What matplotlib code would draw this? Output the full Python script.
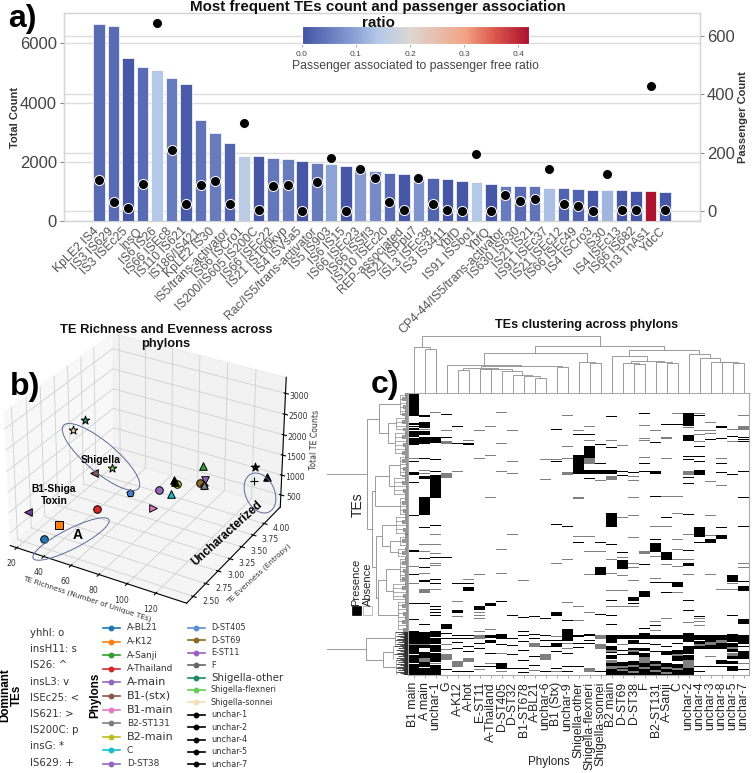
import matplotlib
matplotlib.use("Agg")
import matplotlib.pyplot as plt
import numpy as np
from matplotlib.colors import LinearSegmentedColormap, Normalize
from matplotlib.cm import ScalarMappable
from matplotlib.patches import Ellipse, Rectangle
from matplotlib.lines import Line2D
from matplotlib.transforms import ScaledTranslation

W, H = 753, 773
plt.rcParams['font.family'] = ['Liberation Sans', 'DejaVu Sans']

# ---------- panel a data ----------
te_names = ["KpLE2 IS4", "IS3 IS629", "IS3 ISEc25", "InsQ", "IS6 IS26", "IS66 ISEc8", "IS110 IS621",
            "IS186/IS421", "KpLE2 IS30", "IS5/trans-activator", "IS66 ISCro1", "IS200/IS605 IS200C",
            "IS66 ISEc22", "IS21 IS100kyp", "IS4 ISVsa5", "Rac/IS5/trans-activator", "IS5 IS903", "IS6 IS15",
            "IS66 ISEc23", "IS66 ISSfl3", "IS110 ISEc20", "REP-associated", "IS21 ISPpu7", "ISL3 ISEc38",
            "IS3 IS3411", "YbfD", "IS91 ISSbo1", "YbfQ", "CP4-44/IS5/trans-activator", "IS630 IS630",
            "IS21 IS21", "IS91 ISEc37", "IS21 ISEc12", "IS66 ISEc49", "IS4 ISCro3", "IS30", "IS4 ISEc13",
            "IS66 IS682", "Tn3 TnAs1", "YdcC"]
total_count = [6666, 6587, 5495, 5200, 5100, 4830, 4640, 3400, 2960, 2623, 2207, 2195, 2117, 2083, 2038,
               1970, 1937, 1870, 1745, 1700, 1633, 1588, 1530, 1441, 1419, 1351, 1329, 1239, 1194, 1194,
               1171, 1126, 1104, 1081, 1047, 1047, 1047, 1025, 1002, 980]
passenger_count = [107, 31, 10, 94, 646, 208, 23, 88, 103, 25, 303, 3, 87, 90, 0, 99, 182, 0, 143, 115,
                   31, 2, 112, 23, 2, 0, 194, 0, 56, 33, 41, 145, 23, 16, 0, 127, 2, 2, 430, 2]
passenger_ratio = [.03, .03, .005, .03, .14, .05, .01, .04, .05, .02, .15, .005, .045, .05, .005, .05, .10,
                   .005, .09, .07, .03, .005, .08, .02, .005, .005, .14, .005, .05, .03, .04, .13, .02, .02,
                   .005, .12, .005, .005, .42, .005]
ratio_ticks = [0.0, 0.1, 0.2, 0.3, 0.4]

# ---------- panel b data ----------
phylon_points = ["A-BL21", "A-K12", "A-Thailand", "A-Sanji", "A-main", "B1-(stx)", "B1-main", "B2-ST131", "B2-main",
                 "C", "D-ST38", "D-ST405", "D-ST69", "E-ST11", "F", "Shigella-other", "Shigella-sonnei",
                 "Shigella-flexneri", "unchar-1", "unchar-2", "unchar-4", "unchar-5", "unchar-7"]
te_richness = [32, 36, 56, 107, 21, 42.5, 93, 111, 92, 95, 86, 69, 107, 110, 110, 40, 35.5, 56, 137, 136.6, 138, 89.6, 90.5]
te_evenness = [2.57, 2.75, 2.97, 3.67, 2.57, 3.27, 3.07, 3.57, 3.57, 3.37, 3.37, 3.27, 3.62, 3.62, 3.62, 3.17, 3.07,
               3.27, 3.87, 3.87, 4.12, 3.57, 3.57]
te_total = [313, 485, 842, 1640, 870, 1254, 1146, 1325, 1149, 1174, 1165, 1031, 1288, 1387, 1231, 2624, 2452,
            1518, 1702, 1354, 1190, 1226, 1204]
point_colors = ["#1f77b4", "#ff7f0e", "#d62728", "#2ca02c", "#7b3f9e", "#8c564b", "#e377c2", "#7f7f7f", "#bcbd22",
                "#17becf", "#9467bd", "#4a7fc9", "#8b6a1f", "#a05fc0", "#555555", "#1f8a5f", "#f5deb3",
                "#66cc55", "black", "black", "black", "black", "black"]
point_markers = ["o", "s", "o", "^", "<", "<", ">", "^", "o", "^", "o", "p", "o", "v", "p", "*", "*", "*", "*", "+",
                 "^", "^", "^"]
dominant_tes = ["yhhl: o", "insH11: s", "IS26: ^", "insL3: v", "ISEc25: <", "IS621: >", "IS200C: p", "insG: *", "IS629: +"]
legend_col1 = ["A-BL21", "A-K12", "A-Sanji", "A-Thailand", "A-main", "B1-(stx)", "B1-main", "B2-ST131", "B2-main", "C", "D-ST38"]
legend_col1_colors = ["#1f77b4", "#ff7f0e", "#2ca02c", "#d62728", "#9467bd", "#8c564b", "#e377c2", "#7f7f7f", "#bcbd22", "#17becf", "#9467bd"]
legend_col1_big = [False, False, False, False, True, True, True, False, True, False, False]
legend_col2 = ["D-ST405", "D-ST69", "E-ST11", "F", "Shigella-other", "Shigella-flexneri", "Shigella-sonnei",
               "unchar-1", "unchar-2", "unchar-4", "unchar-5", "unchar-7"]
legend_col2_colors = ["#5a8fd0", "#8b6a1f", "#a05fc0", "#666666", "#1f8a5f", "#66cc55", "#f5deb3", "black", "black", "black", "black", "black"]
legend_col2_big = [False, False, False, False, True, False, False, False, False, False, False, False]

# ---------- panel c data ----------
phylon_columns = ["B1 main", "A main", "unchar-1", "G", "A-K12", "A-hot", "E-ST11", "A-Thailand", "D-ST405", "D-ST32",
                  "B1-ST678", "A-BL21", "unchar-6", "B1 (Stx)", "unchar-9", "Shigella-other", "Shigella-flexneri",
                  "Shigella-sonnei", "B2 main", "D-ST69", "D-ST38", "F", "B2-ST131", "A-Sanji", "C", "unchar-2",
                  "unchar-4", "unchar-3", "unchar-8", "unchar-5", "unchar-7"]
n_te_rows = 284
present_rows = [
 "0-21 22 30-31 33 35-36 38-43 45-51 68 80-82 90 123 158-159 182 211 228 240-252 254-262 264-271 273-283",
 "22-23 29-34 38-41 44-50 65 84-86 105-122 135 166 175 188-189 211 233 241-252 254-256 261-266 271-275 277-283",
 "44-49 66 79 83-105 133 165 187 191 215 218 221 224 240-245 247-252 254-260 262-270 274-283",
 "21 44 165 233-237 242 247 278",
 "33 50 191 219-221 244 247 251 257 280",
 "50-51 191 195-198 244 247 255 260 280",
 "215-218 252 257 275",
 "211-214 244-246 249-251 262 275",
 "209 243-247 253 272-277",
 "224 247 254 263 277",
 "226 240 244 250 259 269 277 281",
 "225 243 247 265 274",
 "227 244 249 255 280",
 "36 68 132 221-224 249 252-255 260 277",
 "134 229 238-249 262 275 280",
 "41 62-81 150 244-245 252 256 275",
 "41 53-64 78-81 86 243-244 249 252",
 "51 71 78-81 150 175-182 223 280",
 "23 54 78-81 121-134 152 208 212 224 233 244-251 255-258 261 264-267 272-274 278-283",
 "79 83 160 168-176 244-247 259 263 271-274 277 280-283",
 "80 205-208 211 244-247 249-252 257-258 261-263 270-273 276-279 282-283",
 "20 71 79 172 199-204 237 242-247 252 257-259 262-265 272-275 278-283",
 "49 79-81 104 147 151-159 190 234 244-247 253 260 270-272 275-278 281-283",
 "31 125 160-167 190 200 244-247 255 260-263 272-275 278-280 283",
 "31 190-194 244-247 252 259-262 265-269 273-276 279-283",
 "20-32 42-47 63 66 85 91 122 158 171-173 208 219 242-250 255-262 264-268 277-283",
 "22 53 63 68 78-82 135-144 150 225 244-248 250-252 255-257 275 280",
 "46 147-150 244-250 254-257 275",
 "33-34 45 71 80 135 143-146 244-248 252-257 269-272 275",
 "0 43 82 183-189 224 243-250 252-255 258-260 265-267 270-272 275-279",
 "44 46 48 79 105 134 189 194-198 228-232 244-252 255 260-267 278",
]
partial_rows = [
 "65 174 191 253",
 "36 78 81 152 159 181 197-200 253 267-270",
 "19 142 152 161 171 173 197 272",
 "37 48-50 81-85 253 258 263-268",
 "79 209 212 225 270-275",
 "47 187 267-270",
 "37 65 182 221 224 227 240 244-247 278",
 "33 62 105 238 272",
 "19 50 79 157 181 262 280",
 "37 68 81 142",
 "188",
 "252-255 279",
 "66 87 263-268",
 "66 171 245 280",
 "22 53 65 80-82 167 210 252 257",
 "37 105-106 144 215 229",
 "33 47 64-71 144 159 182 221 277-280",
 "88 159 244-247 253-257",
 "47 70 84-87 167 181 198 215 259-260 269-271 275-277",
 "52 70 125 165 183 198 215 253 272-276 278-279",
 "84 88 105 123 145 171 175 188 215 259-260 274-275 280-281",
 "32 45 47 64 159-161 276-277 266-271",
 "37 134 164 186 230 239 273-274 279-280",
 "44 45 65 104 134 172 227 276-277 281-282",
 "20 104 121 147 157 167 174 200 263-264 277-278",
 "34 79-82 142 167 182 231 269-271 272-276",
 "20 37 41 48 227 230 234 253-254",
 "29 37 40 89 123 143 182 265 251-253",
 "65 93 197 249-251",
 "36 48 191 197 256-257 262-264",
 "22 33-36 171 175 272",
]
# column dendrogram: (height, left, right); an int is a column index
column_tree = (171,
    (139, 0, (132, 1, 2)),
    (140,
        (120,
            (85, 3, (82,
                (75, (69, 4, 5), (72, (71, 6, 7), (65, 8, (54, 9, (51, 10, (45, 11, 12)))))),
                (79, 13, 14))),
            (93, 15, (90, 16, 17))),
        (129,
            (112, 18, (97, (91, 19, (88, 20, 21)), (92, 22, (89, 23, 24)))),
            (117, 25, (105, 26, (92, 27, (92, 28, (90, 29, 30))))))))
# row dendrogram: (height, left, right); (height, n) is a bundle of n rows
row_tree = (88,
    (41,
        (29, (8, 23), (20, (12, 15), (13, 24))),
        (36,
            (33, (19, (8, 22), (14, 20)), (8, 19)),
            (32,
                (26, (12, 20), (18, (8, 12), (10, 10))),
                (30, (22, (8, 25), (15, 18)), (10, 32))))),
    (42, (13, 14), (25, (15, 14), (12, 16))))
dense_from_row = 240
twig_lengths = [3.5, 6, 2.5, 5]
dense_twig_lengths = [14, 6, 10, 4, 12, 8, 5, 11]


def rect(x0, y0, x1, y1):
    return [x0 / W, 1 - y1 / H, (x1 - x0) / W, (y1 - y0) / H]


fig = plt.figure(figsize=(W / 100, H / 100), dpi=100, facecolor='white')

# ---------- panel a ----------
cmap = LinearSegmentedColormap.from_list("ratio", [
    (0, "#4353a5"), (0.1 / .42, "#8ea3d6"), (0.14 / .42, "#b4c8e8"), (0.2 / .42, "#dcd7d3"),
    (0.3 / .42, "#f2a587"), (0.36 / .42, "#d9534a"), (1, "#ad1230")])
norm = Normalize(0, 0.42)
GRID = "#dcdcdc"
ax = fig.add_axes(rect(64, 13, 700, 221), zorder=1)
ax.patch.set_visible(False)
xs = np.arange(len(te_names))
ax.bar(xs, total_count, width=0.8, color=cmap(norm(passenger_ratio)), edgecolor='white', linewidth=0.5, zorder=3)
ax.set_xlim(-2.41, 41.4)
ax.set_ylim(0, 7030)
ax.set_yticks([0, 2000, 4000, 6000])
ax.set_axisbelow(True)
ax.yaxis.grid(True, color=GRID, lw=1.0)
ax.set_xticks(xs)
ax.tick_params(axis='x', length=0, pad=3)
ax.tick_params(axis='y', labelsize=12, labelcolor='#444444', color='#888888', length=3, pad=2)
ax.set_xticklabels(te_names, rotation=45, ha='right', rotation_mode='anchor', fontsize=8.8, color='#555555')
shift = ScaledTranslation(-6 / 100, 0, fig.dpi_scale_trans)
for lab in ax.get_xticklabels():
    lab.set_transform(lab.get_transform() + shift)
ax.set_ylabel("Total Count", fontsize=8, fontweight='bold', color='#333333', labelpad=0)
for s in ax.spines.values():
    s.set_color('#d5d5d5')
    s.set_linewidth(1.0)

ax_g = ax.twinx()
ax_g.set_zorder(0)
ax_g.set_ylim(-34, 679)
ax_g.set_yticks([0, 200, 400, 600])
ax_g.yaxis.grid(True, color=GRID, lw=1.0)
ax_g.tick_params(axis='y', labelsize=12, labelcolor='#444444', color='#888888', length=3, pad=2)
ax_g.set_ylabel("Passenger Count", fontsize=8, fontweight='bold', color='#333333', labelpad=2)
for s in ax_g.spines.values():
    s.set_color('#d5d5d5')

ax_d = ax.twinx()
ax_d.set_zorder(2)
ax_d.patch.set_visible(False)
ax_d.set_ylim(-34, 679)
ax_d.axis('off')
ax_d.scatter(xs, passenger_count, s=52, c='black', edgecolors='white', linewidths=0.7, zorder=5, clip_on=False)

cax = fig.add_axes(rect(302, 26, 529, 44), zorder=3)
cb = fig.colorbar(ScalarMappable(norm, cmap), cax=cax, orientation='horizontal')
cb.set_ticks(ratio_ticks)
cb.ax.tick_params(labelsize=6, labelcolor='#444444', length=2, color='#888888', pad=3, width=0.5)
cb.outline.set_edgecolor('white')
cb.set_label("Passenger associated to passenger free ratio", fontsize=8.8, color='#444444', labelpad=1.5)

# ---------- panel b ----------
ax3 = fig.add_axes(rect(-13.5, 309, 300.5, 623), projection='3d', zorder=1)
ax3.patch.set_visible(False)
ax3.view_init(elev=30, azim=-60)
ax3.set_xlim(15, 141, view_margin=0)
ax3.set_ylim(2.37, 4.37, view_margin=0)
ax3.set_zlim(190, 3377, view_margin=0)
for x_, y_, z_, c_, m_ in zip(te_richness, te_evenness, te_total, point_colors, point_markers):
    if m_ == '+':
        ax3.scatter([x_], [y_], [z_], c='black', marker='+', s=36, linewidths=0.8, depthshade=False)
    else:
        sz = 30 if m_ != '*' else 42
        ax3.scatter([x_], [y_], [z_], c=c_, marker=m_, s=sz, edgecolors='black', linewidths=0.7, depthshade=False)
ax3.set_xticks([20, 40, 60, 80, 100, 120])
ax3.set_yticks([2.5, 2.75, 3.0, 3.25, 3.5, 3.75, 4.0])
ax3.set_yticklabels(["2.50", "2.75", "3.00", "3.25", "3.50", "3.75", "4.00"])
ax3.set_zticks([500, 1000, 1500, 2000, 2500, 3000])
ax3.tick_params(labelsize=5.6, pad=-2, labelcolor='#333333', width=0.5)
ax3.set_zlabel("Total TE Counts", fontsize=5.6, fontfamily='DejaVu Sans', labelpad=-7, color='#333333')
for lab in ax3.get_xticklabels() + ax3.get_yticklabels() + ax3.get_zticklabels():
    lab.set_fontfamily('DejaVu Sans')
for lab in ax3.get_yticklabels():
    lab.set_ha('left')
    lab.set_va('bottom')
for axis in (ax3.xaxis, ax3.yaxis, ax3.zaxis):
    axis._axinfo['grid'].update(color='#d0d0d0', linewidth=0.6)

# ---------- panel c ----------
def parse_rows(spec):
    out = []
    for tok in spec.split():
        a, _, b = tok.partition('-')
        out.extend(range(int(a), int(b or a) + 1))
    return out


matrix = np.zeros((n_te_rows, len(phylon_columns)))
for c_, spec in enumerate(partial_rows):
    matrix[parse_rows(spec), c_] = 0.5
for c_, spec in enumerate(present_rows):
    matrix[parse_rows(spec), c_] = 1.0

hm = fig.add_axes(rect(408, 393, 749, 675))
hm.imshow(matrix, cmap='gray_r', vmin=0, vmax=1, aspect='auto', interpolation='nearest',
          extent=(0, len(phylon_columns), n_te_rows, 0))
hm.set_xticks(np.arange(len(phylon_columns)) + 0.5)
hm.set_xticklabels(phylon_columns, rotation=90, fontsize=8.8, color='#222222')
hm.set_yticks([])
hm.tick_params(axis='x', length=2, width=0.5, color='#888888', pad=3)
for s in hm.spines.values():
    s.set_color('#aaaaaa')
    s.set_linewidth(0.8)

td = fig.add_axes(rect(408, 335, 749, 393))
td.set_xlim(0, len(phylon_columns))
td.set_ylim(0, 174)
td.axis('off')
DCOL = '#8c8c8c'


def draw_top(node):
    if isinstance(node, int):
        return node + 0.5, 0
    h, l, r = node
    xl, hl = draw_top(l)
    xr, hr = draw_top(r)
    td.plot([xl, xl, xr, xr], [hl, h, h, hr], color=DCOL, lw=0.6, solid_joinstyle='miter')
    return (xl + xr) / 2, h


draw_top(column_tree)

ld = fig.add_axes(rect(327, 393, 408, 675))
ld.set_xlim(81, 0)
ld.set_ylim(n_te_rows, 0)
ld.axis('off')
row_cursor = [0]
TWIG_ROWS = 4


def draw_left(node):
    if len(node) == 2:
        h, n = node
        start = row_cursor[0]
        rows = start + np.arange(n) + 0.5
        row_cursor[0] += n
        if start >= dense_from_row:
            ends = [min(dense_twig_lengths[i % len(dense_twig_lengths)], h) for i in range(n)]
            ld.hlines(rows, 0, ends, color='#2e2e2e', lw=0.6)
            ld.hlines(rows, 0, 4, color='#2e2e2e', lw=0.8)
            ld.plot([h, h], [rows[0], rows[-1]], color=DCOL, lw=0.5)
            return rows.mean(), h
        centres = []
        for k, i in enumerate(range(0, n, TWIG_ROWS)):
            chunk = rows[i:i + TWIG_ROWS]
            tw = twig_lengths[k % len(twig_lengths)]
            ld.hlines(chunk, 0, tw, color='#444444', lw=0.4)
            ld.plot([tw, tw], [chunk[0], chunk[-1]], color='#555555', lw=0.4)
            ld.plot([tw, h], [chunk.mean(), chunk.mean()], color=DCOL, lw=0.5)
            centres.append(chunk.mean())
        ld.plot([h, h], [centres[0], centres[-1]], color=DCOL, lw=0.5)
        return rows.mean(), h
    h, l, r = node
    yl, hl = draw_left(l)
    yr, hr = draw_left(r)
    ld.plot([hl, h, h, hr], [yl, yl, yr, yr], color=DCOL, lw=0.6, solid_joinstyle='miter')
    return (yl + yr) / 2, h


draw_left(row_tree)

# ---------- overlay texts ----------
ov = fig.add_axes([0, 0, 1, 1], zorder=10)
ov.set_xlim(0, W)
ov.set_ylim(H, 0)
ov.axis('off')
ov.text(378, 15, "Most frequent TEs count and passenger association\nratio", fontsize=10.9, fontweight='bold',
        ha='center', va='center', linespacing=1.2, color='#111111')
ov.text(166, 337, "TE Richness and Evenness across\nphylons", fontsize=9.3, fontweight='bold',
        ha='center', va='center', linespacing=1.2, color='#111111')
ov.text(587, 325, "TEs clustering across phylons", fontsize=9.1, fontweight='bold', ha='center', va='center', color='#111111')
ov.text(22, 19, "a)", fontsize=23, fontweight='bold', ha='center', va='center')
ov.text(25, 387, "b)", fontsize=23, fontweight='bold', ha='center', va='center')
ov.text(385, 385, "c)", fontsize=23, fontweight='bold', ha='center', va='center')

ov.text(87.5, 599, "TE Richness (Number of Unique TEs)", fontsize=5.3, fontfamily='DejaVu Sans', rotation=-18,
        ha='center', va='center', color='#333333')
ov.text(259, 574, "TE Evenness (Entropy)", fontsize=5.4, fontfamily='DejaVu Sans', rotation=43,
        ha='center', va='center', color='#333333')

EC = '#5a6a9a'
ov.add_patch(Ellipse((71, 539), 85, 20, angle=-27, fill=False, ec=EC, lw=0.7))
ov.add_patch(Ellipse((101, 457), 98, 30, angle=40, fill=False, ec=EC, lw=0.7))
ov.add_patch(Ellipse((260, 493), 42, 29, angle=65, fill=False, ec=EC, lw=0.7))
ov.text(101, 460, "Shigella", fontsize=7.4, fontweight='bold', ha='center', va='center')
ov.text(54, 495, "B1-Shiga\nToxin", fontsize=7.4, fontweight='bold', ha='center', va='center', linespacing=1.2)
ov.text(78, 535, "A", fontsize=10, fontweight='bold', ha='center', va='center')
ov.text(227, 533, "Uncharacterized", fontsize=8.4, fontweight='bold', ha='center', va='center', rotation=42)

for i, t_ in enumerate(dominant_tes):
    ov.text(30, 633 + i * 16.2, t_, fontsize=7.3, fontfamily='DejaVu Sans', va='center', color='#333333')
ov.text(11, 695, "Dominant\nTEs", fontsize=8.4, fontweight='bold', rotation=90, ha='center', va='center', linespacing=1.05)
ov.text(95, 695, "Phylons", fontsize=8.4, fontweight='bold', rotation=90, ha='center', va='center')

for i, (t_, c_, big) in enumerate(zip(legend_col1, legend_col1_colors, legend_col1_big)):
    y_ = 628 + i * 13.6
    ov.add_line(Line2D([103, 120], [y_, y_], color=c_, lw=1.2))
    ov.plot([111.5], [y_], 'o', color=c_, ms=3.2)
    ov.text(127, y_, t_, fontsize=8 if big else 6.4, fontfamily='DejaVu Sans', va='center', color='#333333')
for i, (t_, c_, big) in enumerate(zip(legend_col2, legend_col2_colors, legend_col2_big)):
    y_ = 628 + i * 12.4
    ov.add_line(Line2D([188, 205], [y_, y_], color=c_, lw=1.2))
    ov.plot([196.5], [y_], 'o', color=c_, ms=3.2)
    ov.text(211, y_, t_, fontsize=7.4 if big else 5.9, fontfamily='DejaVu Sans', va='center', color='#333333')

ov.text(358, 505, "TEs", fontsize=10, rotation=90, ha='center', va='center', color='#222222')
ov.text(356, 582, "Presence", fontsize=8, rotation=90, ha='center', va='center', color='#222222')
ov.text(368, 584, "Absence", fontsize=8, rotation=90, ha='center', va='center', color='#222222')
ov.add_patch(Rectangle((352, 606), 9, 9, fc='black', ec='black', lw=0.5))
ov.add_patch(Rectangle((363.5, 606), 9, 9, fc='white', ec='#bbbbcc', lw=0.7))
ov.text(549, 762, "Phylons", fontsize=8.4, ha='center', va='center', color='#222222')

fig.savefig("out.png", dpi=100)
